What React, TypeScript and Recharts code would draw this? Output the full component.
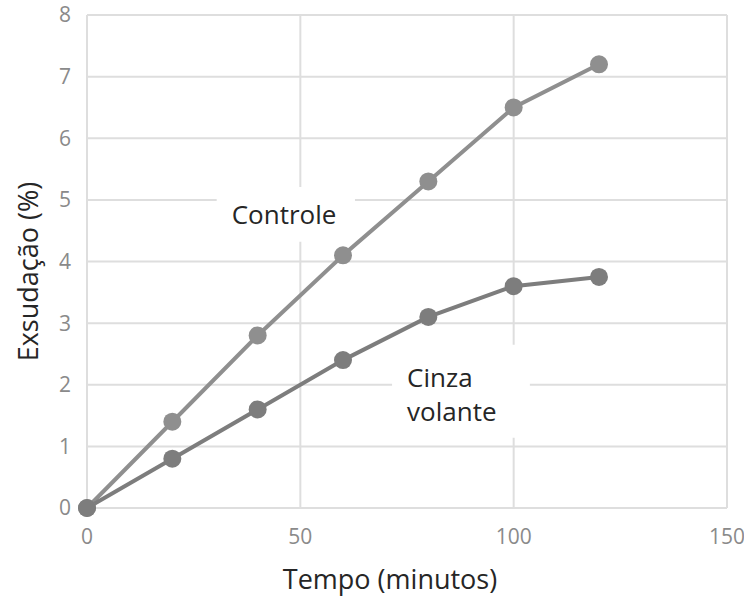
import {
  CartesianGrid,
  Label,
  Line,
  LineChart,
  ReferenceArea,
  XAxis,
  YAxis,
} from "recharts";

const tempo = [0, 20, 40, 60, 80, 100, 120];
const controle = [0, 1.4, 2.8, 4.1, 5.3, 6.5, 7.2];
const cinzaVolante = [0, 0.8, 1.6, 2.4, 3.1, 3.6, 3.75];
const xTicks = [0, 50, 100, 150];
const yTicks = [0, 1, 2, 3, 4, 5, 6, 7, 8];

const data = tempo.map((t, i) => ({
  tempo: t,
  controle: controle[i],
  cinza: cinzaVolante[i],
}));

const FONT = "'Open Sans', 'Noto Sans', sans-serif";

function BoxText({ viewBox, lines, dx, dy, gap }: any) {
  if (!viewBox) return null;
  return (
    <text
      x={viewBox.x + dx}
      y={viewBox.y + dy}
      fill="#262626"
      fontSize={26}
      fontFamily={FONT}
    >
      {lines.map((l: string, i: number) => (
        <tspan key={l} x={viewBox.x + dx} dy={i === 0 ? 0 : gap}>
          {l}
        </tspan>
      ))}
    </text>
  );
}

// axis titles sit a bit off-centre in the original, so place them by hand
const XTitle = ({ viewBox }: any) =>
  viewBox ? (
    <text
      x={viewBox.x + viewBox.width / 2 - 17}
      y={viewBox.y + viewBox.height - 7}
      textAnchor="middle"
      fill="#262626"
      fontSize={27}
      fontFamily={FONT}
    >
      Tempo (minutos)
    </text>
  ) : null;

const YTitle = ({ viewBox }: any) =>
  viewBox ? (
    <text
      transform={`translate(${viewBox.x + 38}, ${viewBox.y + viewBox.height / 2 + 10}) rotate(-90)`}
      textAnchor="middle"
      fill="#262626"
      fontSize={27}
      fontFamily={FONT}
    >
      Exsudação (%)
    </text>
  ) : null;

export default function App() {
  return (
    <div style={{ position: "absolute", left: 0, top: 0, background: "#fff" }}>
      <LineChart
        width={744}
        height={596}
        data={data}
        margin={{ top: 15, right: 17, left: 0, bottom: 0 }}
      >
        <CartesianGrid stroke="#dedede" strokeWidth={2} />
        <XAxis
          type="number"
          dataKey="tempo"
          domain={[0, 150]}
          ticks={xTicks}
          height={88}
          axisLine={false}
          tickLine={false}
          tickSize={0}
          tickMargin={21}
          tick={{ fill: "#8a8a8a", fontSize: 21, fontFamily: FONT }}
        >
          <Label content={<XTitle />} />
        </XAxis>
        <YAxis
          type="number"
          domain={[0, 8]}
          ticks={yTicks}
          width={87}
          axisLine={false}
          tickLine={false}
          tickSize={0}
          tickMargin={16}
          tick={{ fill: "#8a8a8a", fontSize: 21, fontFamily: FONT }}
        >
          <Label content={<YTitle />} />
        </YAxis>
        <ReferenceArea
          x1={30.4}
          x2={62.8}
          y1={4.32}
          y2={5.21}
          fill="#ffffff"
          fillOpacity={1}
          stroke="none"
          label={<BoxText lines={["Controle"]} dx={15} dy={37} gap={0} />}
        />
        <ReferenceArea
          x1={71.5}
          x2={103.8}
          y1={1.14}
          y2={2.65}
          fill="#ffffff"
          fillOpacity={1}
          stroke="none"
          label={
            <BoxText lines={["Cinza", "volante"]} dx={15} dy={42} gap={34} />
          }
        />
        <Line
          dataKey="controle"
          stroke="#8f8f8f"
          strokeWidth={4}
          dot={{ r: 9, fill: "#8f8f8f", stroke: "none" }}
          activeDot={false}
          isAnimationActive={false}
        />
        <Line
          dataKey="cinza"
          stroke="#7d7d7d"
          strokeWidth={4}
          dot={{ r: 9, fill: "#7d7d7d", stroke: "none" }}
          activeDot={false}
          isAnimationActive={false}
        />
      </LineChart>
    </div>
  );
}
